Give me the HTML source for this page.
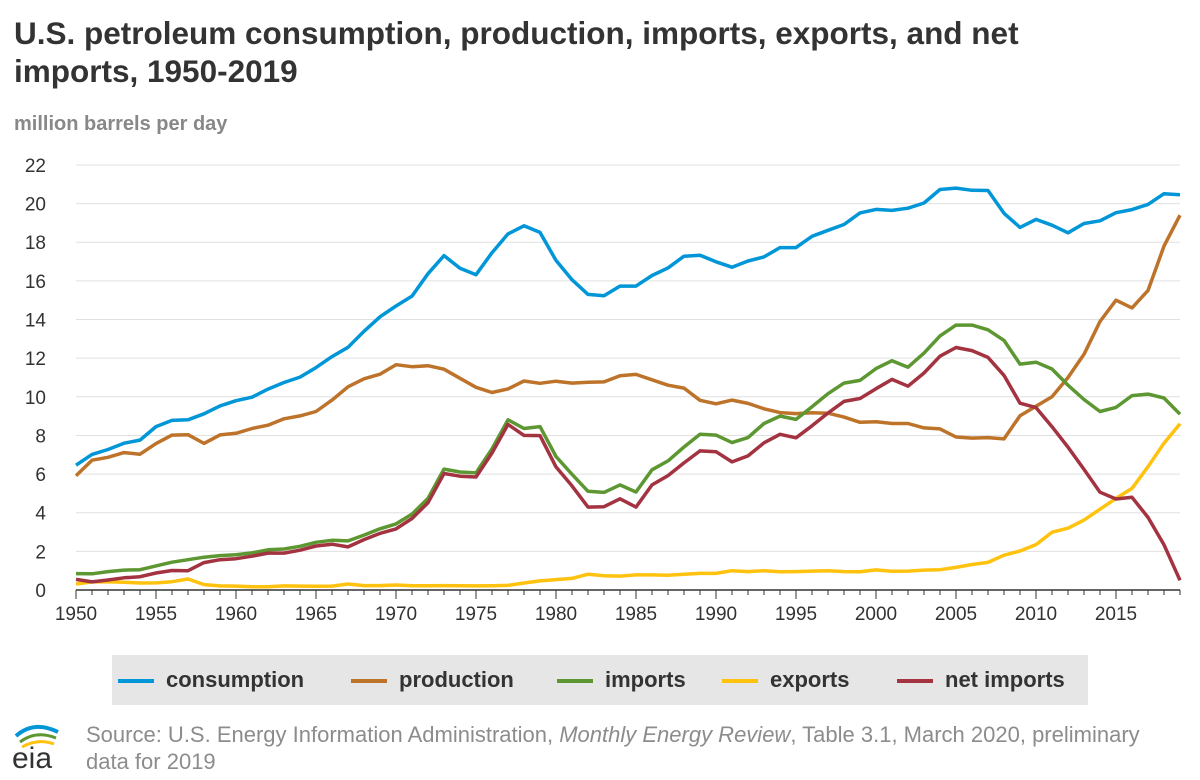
<!DOCTYPE html>
<html><head><meta charset="utf-8"><style>
body{margin:0;background:#fff;font-family:"Liberation Sans",Arial,sans-serif;}
#wrap{position:relative;width:1200px;height:780px;overflow:hidden;}
.title{position:absolute;left:14px;top:14px;font-size:31.5px;font-weight:bold;color:#333;line-height:38px;width:1060px;}
.ylab{position:absolute;left:14px;top:113px;font-size:20px;font-weight:bold;color:#888;}
.legend{position:absolute;left:112px;top:655px;width:976px;height:50px;background:#e6e6e6;}
.li{position:absolute;top:12px;font-size:22px;font-weight:bold;color:#333;}
.li span{display:inline-block;width:36px;height:4px;vertical-align:middle;margin-right:12px;}
.src{position:absolute;left:86px;top:721px;font-size:22px;color:#8c8c8c;line-height:27px;width:1080px;}
</style></head><body><div id="wrap">
<div class="title">U.S. petroleum consumption, production, imports, exports, and net imports, 1950-2019</div>
<div class="ylab">million barrels per day</div>
<svg id="plot" width="1200" height="650" style="position:absolute;left:0;top:0"></svg>
<div class="legend">
<div class="li" style="left:6px"><span style="background:#0096d7"></span>consumption</div>
<div class="li" style="left:239px"><span style="background:#bd732a"></span>production</div>
<div class="li" style="left:445px"><span style="background:#5d9732"></span>imports</div>
<div class="li" style="left:610px"><span style="background:#ffc20e"></span>exports</div>
<div class="li" style="left:785px"><span style="background:#a33340"></span>net imports</div>
</div>
<svg width="60" height="50" style="position:absolute;left:8px;top:722px">
<path d="M8 14 Q26 -2 50 10" stroke="#0096d7" stroke-width="4" fill="none"/><path d="M12 20 Q28 8 48 16" stroke="#5d9732" stroke-width="3" fill="none"/><path d="M14 25 Q30 16 46 22" stroke="#ffc20e" stroke-width="3" fill="none"/>
<text x="4" y="46" font-size="30" fill="#333" font-family="Liberation Sans">eia</text></svg>
<div class="src">Source: U.S. Energy Information Administration, <i>Monthly Energy Review</i>, Table 3.1, March 2020, preliminary data for 2019</div>
</div>
<script>
const yTicks=[0,2,4,6,8,10,12,14,16,18,20,22];
const xTicks=[1950,1955,1960,1965,1970,1975,1980,1985,1990,1995,2000,2005,2010,2015];
const startYear=1950;
const consumption=[6.46,7.02,7.27,7.60,7.76,8.46,8.78,8.81,9.12,9.53,9.80,9.98,10.40,10.74,11.02,11.51,12.08,12.56,13.39,14.14,14.70,15.21,16.37,17.31,16.65,16.32,17.46,18.43,18.85,18.51,17.06,16.06,15.30,15.23,15.73,15.73,16.28,16.67,17.28,17.33,16.99,16.71,17.03,17.24,17.72,17.72,18.31,18.62,18.92,19.52,19.70,19.65,19.76,20.03,20.73,20.80,20.69,20.68,19.50,18.77,19.18,18.88,18.49,18.97,19.11,19.53,19.69,19.96,20.51,20.46];
const production=[5.91,6.72,6.87,7.11,7.03,7.58,8.02,8.04,7.59,8.03,8.11,8.36,8.53,8.86,9.01,9.24,9.83,10.52,10.93,11.17,11.66,11.56,11.61,11.43,10.96,10.49,10.22,10.41,10.82,10.70,10.81,10.71,10.75,10.77,11.09,11.16,10.88,10.60,10.45,9.82,9.64,9.83,9.66,9.38,9.18,9.13,9.17,9.15,8.95,8.68,8.71,8.62,8.62,8.39,8.34,7.92,7.86,7.89,7.82,9.02,9.51,10.0,11.0,12.2,13.9,15.0,14.6,15.5,17.8,19.4];
const imports=[0.85,0.84,0.95,1.03,1.05,1.25,1.44,1.57,1.70,1.78,1.82,1.92,2.08,2.12,2.26,2.47,2.57,2.54,2.84,3.17,3.42,3.93,4.74,6.26,6.11,6.06,7.31,8.81,8.36,8.46,6.91,5.99,5.11,5.05,5.44,5.07,6.22,6.68,7.40,8.06,8.02,7.63,7.89,8.62,9.00,8.83,9.48,10.16,10.71,10.85,11.46,11.87,11.53,12.26,13.15,13.71,13.71,13.47,12.92,11.69,11.79,11.44,10.60,9.86,9.24,9.45,10.06,10.14,9.94,9.10];
const exports=[0.31,0.42,0.43,0.40,0.36,0.37,0.43,0.57,0.28,0.21,0.20,0.17,0.17,0.21,0.20,0.19,0.20,0.31,0.23,0.23,0.26,0.22,0.22,0.23,0.22,0.21,0.22,0.24,0.36,0.47,0.54,0.60,0.82,0.74,0.72,0.78,0.78,0.76,0.82,0.86,0.86,1.00,0.95,1.00,0.94,0.95,0.98,1.00,0.95,0.94,1.04,0.97,0.98,1.03,1.05,1.17,1.32,1.43,1.80,2.02,2.35,2.99,3.20,3.62,4.18,4.74,5.26,6.38,7.60,8.60];
const netImports=[0.55,0.42,0.52,0.63,0.69,0.88,1.01,1.00,1.42,1.57,1.62,1.75,1.91,1.91,2.06,2.28,2.37,2.23,2.61,2.93,3.16,3.70,4.52,6.03,5.89,5.85,7.09,8.57,8.00,7.99,6.37,5.39,4.29,4.31,4.72,4.29,5.44,5.92,6.58,7.20,7.16,6.63,6.94,7.62,8.06,7.88,8.50,9.16,9.76,9.91,10.42,10.90,10.55,11.23,12.10,12.55,12.39,12.04,11.11,9.67,9.44,8.45,7.39,6.24,5.06,4.71,4.80,3.76,2.34,0.50];
const NS='http://www.w3.org/2000/svg';
const svg=document.getElementById('plot');
const X0=76,XS=16.0,Y0=590,YS=19.32;
const xPos=y=>X0+(y-1950)*XS;
const yPos=v=>Y0-v*YS;
function mk(t,a){const e=document.createElementNS(NS,t);for(const k in a)e.setAttribute(k,a[k]);svg.appendChild(e);return e;}
yTicks.forEach(v=>{
 if(v>0){const g=mk('line',{x1:X0,x2:1180,y1:yPos(v),y2:yPos(v),stroke:'#e0e0e0','stroke-width':1});
 
 }
 const t=mk('text',{x:46,y:yPos(v)+7,'text-anchor':'end','font-size':19,fill:'#333','font-family':'Liberation Sans'});
 t.textContent=v;
 
 
});
const ax=mk('line',{x1:X0,x2:1180,y1:Y0,y2:Y0,stroke:'#333','stroke-width':1.5});


for(let y=1950;y<=2019;y++){
 const tk=mk('line',{x1:xPos(y),x2:xPos(y),y1:Y0,y2:Y0+(y%5==0?9:5),stroke:'#333','stroke-width':1});
 
 
}
xTicks.forEach(y=>{
 const t=mk('text',{x:xPos(y),y:620,'text-anchor':'middle','font-size':19,fill:'#333','font-family':'Liberation Sans'});
 t.textContent=y;
 
 
});
function series(arr,color,name){
 const d=arr.map((v,i)=>(i?'L':'M')+xPos(startYear+i).toFixed(1)+' '+yPos(v).toFixed(1)).join(' ');
 const p=mk('path',{d:d,fill:'none',stroke:color,'stroke-width':3.5,'stroke-linejoin':'round'});
 
 
}
series(exports,'#ffc20e','exports-line');
series(production,'#bd732a','production-line');
series(imports,'#5d9732','imports-line');
series(netImports,'#a33340','net-imports-line');
series(consumption,'#0096d7','consumption-line');
</script></body></html>
